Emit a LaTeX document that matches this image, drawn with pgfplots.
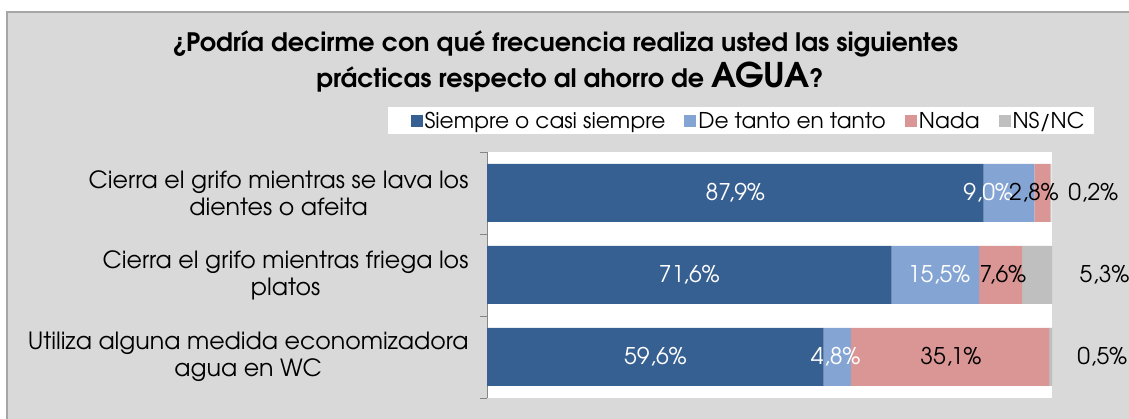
\documentclass[border=0pt]{standalone}
\usepackage{pgfplots}
\pgfplotsset{compat=1.18}
\usepackage{fontspec}
\setmainfont{texgyreadventor}[Extension=.otf, UprightFont=*-regular, BoldFont=*-bold, ItalicFont=*-italic, BoldItalicFont=*-bolditalic]
\definecolor{bg}{HTML}{D9D9D9}
\definecolor{c1}{HTML}{376092}
\definecolor{c2}{HTML}{84A5D3}
\definecolor{c3}{HTML}{DA9694}
\definecolor{c4}{HTML}{BFBFBF}
\definecolor{bord}{HTML}{A6A6A6}
\definecolor{axgray}{HTML}{868686}
\tikzset{vl/.style={font=\fontsize{23}{26}\selectfont}}
\begin{document}
\begin{tikzpicture}[x=1pt,y=1pt]
\useasboundingbox (0,0) rectangle (1129,419);
\fill[bg] (7,0) rectangle (1129,407);
\draw[bord, line width=1.5pt] (7,0) -- (7,407) -- (1129,407);
\node[anchor=base, font=\bfseries\fontsize{25.4}{30}\selectfont] at (565,367) {¿Podría decirme con qué frecuencia realiza usted las siguientes};
\node[anchor=base, font=\bfseries\fontsize{25.4}{30}\selectfont] at (570,331) {prácticas respecto al ahorro de {\fontsize{34}{38}\selectfont AGUA}?};
\fill[white] (388,285) rectangle (1094,312);
\begin{axis}[
  at={(487pt,21pt)}, anchor=south west, scale only axis,
  width=565pt, height=246pt,
  xbar stacked, bar width=58pt,
  xmin=0, xmax=100, ymin=0.5, ymax=3.5,
  clip=false,
  axis background/.style={fill=white},
  axis x line=none, axis y line=left,
  y axis line style={-, color=axgray, line width=0.8pt},
  ytick={1,2,3},
  yticklabels={{Utiliza alguna medida economizadora\\agua en WC},{Cierra el grifo mientras friega los\\platos},{Cierra el grifo mientras se lava los\\dientes o afeita}},
  major tick length=0pt,
  yticklabel style={align=center, font=\fontsize{23.7}{27}\selectfont, text=black, xshift=-15pt},
  extra y ticks={0.5,1.5,2.5,3.5},
  extra y tick labels={},
  extra y tick style={major tick length=7pt, tick align=outside, tick style={color=axgray, line width=0.8pt}},
  legend columns=4,
  legend style={at={(axis description cs:-0.141,1.126)}, anchor=west, draw=none, fill=none,
    font=\fontsize{21.7}{24}\selectfont,
    /tikz/every even column/.append style={column sep=17pt},
    legend cell align=left},
  legend image code/.code={\fill[#1] (0pt,-6pt) rectangle (12pt,6pt);},
]
\addplot[fill=c1, draw=none] coordinates {(59.6,1) (71.6,2) (87.9,3)};
\addplot[fill=c2, draw=none] coordinates {(4.8,1) (15.5,2) (9.0,3)};
\addplot[fill=c3, draw=none] coordinates {(35.1,1) (7.6,2) (2.8,3)};
\addplot[fill=c4, draw=none] coordinates {(0.5,1) (5.3,2) (0.2,3)};
\legend{Siempre o casi siempre, De tanto en tanto, Nada, NS/NC}
\coordinate (a1) at (axis cs:43.95,3);
\coordinate (a2) at (axis cs:88.7,3);
\coordinate (a3) at (axis cs:96.8,3);
\coordinate (a4) at (axis cs:107.3,3);
\coordinate (b1) at (axis cs:35.8,2);
\coordinate (b2) at (axis cs:80.0,2);
\coordinate (b3) at (axis cs:91.3,2);
\coordinate (b4) at (axis cs:109.3,2);
\coordinate (d1) at (axis cs:29.8,1);
\coordinate (d2) at (axis cs:61.7,1);
\coordinate (d3) at (axis cs:82.1,1);
\coordinate (d4) at (axis cs:108.9,1);
\end{axis}
\node[vl, text=white] at (a1) {87,9\%};
\node[vl, text=white] at (a2) {9,0\%};
\node[vl, text=black] at (a3) {2,8\%};
\node[vl, text=black] at (a4) {0,2\%};
\node[vl, text=white] at (b1) {71,6\%};
\node[vl, text=white] at (b2) {15,5\%};
\node[vl, text=black] at (b3) {7,6\%};
\node[vl, text=black] at (b4) {5,3\%};
\node[vl, text=white] at (d1) {59,6\%};
\node[vl, text=white] at (d2) {4,8\%};
\node[vl, text=black] at (d3) {35,1\%};
\node[vl, text=black] at (d4) {0,5\%};
\end{tikzpicture}
\end{document}
